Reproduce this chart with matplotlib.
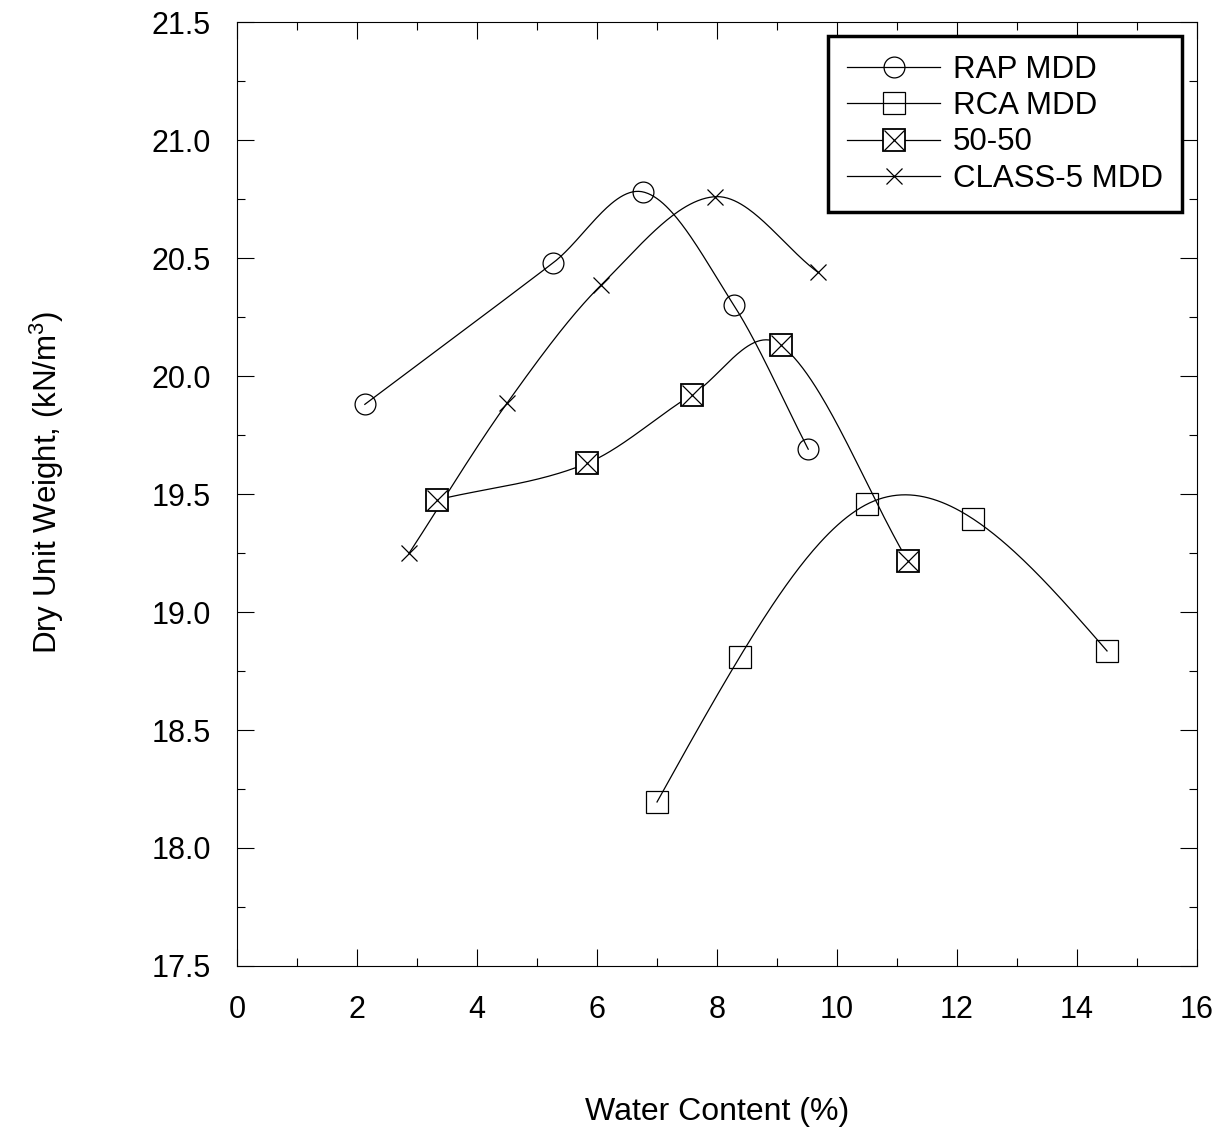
import numpy as np
import matplotlib.pyplot as plt
from matplotlib.lines import Line2D
from matplotlib.legend_handler import HandlerTuple

plt.rcParams['font.family'] = ['Liberation Sans', 'DejaVu Sans']
plt.rcParams['mathtext.fontset'] = 'custom'
plt.rcParams['mathtext.rm'] = 'Liberation Sans'
plt.rcParams['font.size'] = 22

# compaction test results: water content (%) vs dry unit weight (kN/m3)
rap_w = [2.13, 5.27, 6.77, 8.28, 9.52]
rap_g = [19.88, 20.48, 20.78, 20.30, 19.69]
rca_w = [7.00, 8.38, 10.50, 12.27, 14.50]
rca_g = [18.195, 18.81, 19.457, 19.394, 18.835]
mix_w = [3.33, 5.83, 7.58, 9.07, 11.18]
mix_g = [19.475, 19.63, 19.92, 20.13, 19.216]
cl5_w = [2.87, 4.50, 6.07, 7.97, 9.68]
cl5_g = [19.25, 19.885, 20.386, 20.76, 20.44]


def smooth(x, y, n=60):
    # cubic hermite through the points, catmull-rom tangents
    x = np.asarray(x, float)
    y = np.asarray(y, float)
    m = np.empty_like(y)
    m[1:-1] = (y[2:] - y[:-2]) / (x[2:] - x[:-2])
    m[0] = (y[1] - y[0]) / (x[1] - x[0])
    m[-1] = (y[-1] - y[-2]) / (x[-1] - x[-2])
    xs, ys = [], []
    for i in range(len(x) - 1):
        h = x[i + 1] - x[i]
        t = np.linspace(0, 1, n)
        h00 = 2 * t**3 - 3 * t**2 + 1
        h10 = t**3 - 2 * t**2 + t
        h01 = -2 * t**3 + 3 * t**2
        h11 = t**3 - t**2
        xs.append(x[i] + t * h)
        ys.append(h00 * y[i] + h10 * h * m[i] + h01 * y[i + 1] + h11 * h * m[i + 1])
    return np.concatenate(xs), np.concatenate(ys)


def spline(x, y, n=200):
    # natural cubic spline through the points
    x = np.asarray(x, float)
    y = np.asarray(y, float)
    k = len(x)
    h = np.diff(x)
    A = np.zeros((k, k))
    b = np.zeros(k)
    A[0, 0] = A[-1, -1] = 1
    for i in range(1, k - 1):
        A[i, i - 1] = h[i - 1]
        A[i, i] = 2 * (h[i - 1] + h[i])
        A[i, i + 1] = h[i]
        b[i] = 6 * ((y[i + 1] - y[i]) / h[i] - (y[i] - y[i - 1]) / h[i - 1])
    M = np.linalg.solve(A, b)
    xs = np.linspace(x[0], x[-1], n)
    idx = np.clip(np.searchsorted(x, xs) - 1, 0, k - 2)
    x0, x1 = x[idx], x[idx + 1]
    hh = x1 - x0
    t0, t1 = x1 - xs, xs - x0
    ys = (M[idx] * t0**3 + M[idx + 1] * t1**3) / (6 * hh) \
        + (y[idx] / hh - M[idx] * hh / 6) * t0 \
        + (y[idx + 1] / hh - M[idx + 1] * hh / 6) * t1
    return xs, ys


fig = plt.figure(figsize=(12.3, 11.31), dpi=100)
ax = fig.add_axes([0.1927, 0.1459, 0.7805, 0.8346])

lw = 0.9
for xs, ys in [smooth(rap_w, rap_g), spline(rca_w, rca_g),
               smooth(mix_w, mix_g), smooth(cl5_w, cl5_g)]:
    ax.plot(xs, ys, color='black', lw=lw, zorder=2)

ax.plot(rap_w, rap_g, 'o', ms=15, mfc='none', mec='black', mew=lw, zorder=3)
ax.plot(rca_w, rca_g, 's', ms=15.5, mfc='none', mec='black', mew=lw, zorder=3)
ax.plot(mix_w, mix_g, 's', ms=15.5, mfc='white', mec='black', mew=1.3, zorder=4)
ax.plot(mix_w, mix_g, 'x', ms=15, mec='black', mew=lw, zorder=5)
ax.plot(cl5_w, cl5_g, 'x', ms=12, mec='black', mew=lw, zorder=3)

ax.set_xlim(0, 16)
ax.set_ylim(17.5, 21.5)
ax.set_xticks(np.arange(0, 17, 2))
ax.set_xticks(np.arange(1, 16, 2), minor=True)
ax.set_yticks(np.arange(17.5, 21.6, 0.5))
ax.set_yticks(np.arange(17.75, 21.5, 0.5), minor=True)
ax.yaxis.set_major_formatter(plt.FormatStrFormatter('%.1f'))
ax.tick_params(which='both', direction='in', top=True, right=True, width=0.8)
ax.tick_params(which='major', length=12, labelsize=22)
ax.tick_params(which='minor', length=6)
ax.tick_params(axis='x', which='major', pad=21)
ax.tick_params(axis='y', which='major', pad=19)
for s in ax.spines.values():
    s.set_linewidth(0.8)

ax.set_xlabel('Water Content (%)', fontsize=23, labelpad=52)
ax.set_ylabel('Dry Unit Weight, (kN/m$^3$)', fontsize=22.5)
ax.yaxis.set_label_coords(-0.178, 0.512)

h_rap = Line2D([], [], color='black', lw=lw, marker='o', ms=15, mfc='none', mec='black', mew=lw)
h_rca = Line2D([], [], color='black', lw=lw, marker='s', ms=15.5, mfc='none', mec='black', mew=lw)
h_mix = (Line2D([], [], color='black', lw=lw, marker='s', ms=15.5, mfc='white', mec='black', mew=1.3),
         Line2D([], [], ls='none', marker='x', ms=15, mec='black', mew=lw))
h_cl5 = Line2D([], [], color='black', lw=lw, marker='x', ms=12, mec='black', mew=lw)
leg = ax.legend([h_rap, h_rca, h_mix, h_cl5], ['RAP MDD', 'RCA MDD', '50-50', 'CLASS-5 MDD'],
                handler_map={tuple: HandlerTuple(ndivide=1, pad=0)},
                loc='upper right', bbox_to_anchor=(0.984, 0.985), borderaxespad=0,
                fancybox=False, framealpha=1, edgecolor='black', handlelength=3.0,
                labelspacing=0.2, handletextpad=0.4, borderpad=0.6, fontsize=22.5)
leg.get_frame().set_linewidth(2.5)

fig.savefig('out.png', dpi=100)
